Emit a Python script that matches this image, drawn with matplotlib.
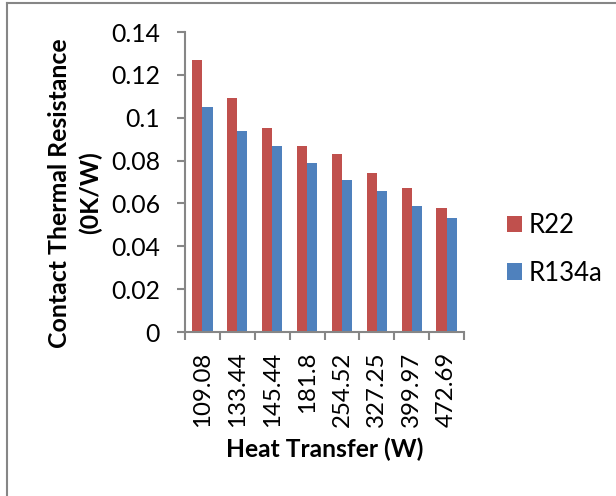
import matplotlib
matplotlib.use("Agg")
import matplotlib.pyplot as plt
import numpy as np
from matplotlib.lines import Line2D
from matplotlib.patches import Patch

categories = ["109.08", "133.44", "145.44", "181.8", "254.52", "327.25", "399.97", "472.69"]
r22 = [0.127, 0.109, 0.095, 0.087, 0.083, 0.074, 0.067, 0.058]
r134a = [0.105, 0.094, 0.087, 0.079, 0.071, 0.066, 0.059, 0.053]
yticks = [0, 0.02, 0.04, 0.06, 0.08, 0.1, 0.12, 0.14]
ytick_labels = ["0", "0.02", "0.04", "0.06", "0.08", "0.1", "0.12", "0.14"]

RED = "#C0504D"
BLUE = "#4F81BD"
GRAY = "#868686"
FONT = "Lato"

fig = plt.figure(figsize=(6.16, 4.96), dpi=100)
ax = fig.add_axes([185/616, (496-332)/496, 279/616, 300/496])

x = np.arange(len(categories))
w = 0.29
ax.bar(x - w/2, r22, width=w, color=RED, label="R22", linewidth=0)
ax.bar(x + w/2, r134a, width=w, color=BLUE, label="R134a", linewidth=0)

ax.set_xlim(-0.5, len(categories) - 0.5)
ax.set_ylim(0, 0.14)

for s in ["top", "right"]:
    ax.spines[s].set_visible(False)
for s in ["left", "bottom"]:
    ax.spines[s].set_color(GRAY)
    ax.spines[s].set_linewidth(1.5)

ax.set_yticks(yticks)
ax.set_yticklabels(ytick_labels, fontfamily=FONT, fontsize=17.8)
ax.tick_params(axis="y", direction="out", length=6, width=1.5, color=GRAY, pad=12)

ax.set_xticks(x)
ax.set_xticklabels(categories, rotation=90, fontfamily=FONT, fontsize=17.3)
ax.tick_params(axis="x", which="major", length=0, pad=14)
ax.set_xticks(np.arange(len(categories) + 1) - 0.5, minor=True)
ax.tick_params(axis="x", which="minor", direction="out", length=6, width=1.5, color=GRAY)

fig.text(325/616, (496-456.7)/496, "Heat Transfer (W)", ha="center", va="baseline",
         fontfamily=FONT, fontweight="bold", fontsize=17.7)
fig.text(66.7/616, (496-193)/496, "Contact Thermal Resistance", rotation=90,
         rotation_mode="anchor", ha="center", va="baseline",
         fontfamily=FONT, fontweight="bold", fontsize=17.9)
fig.text(98/616, (496-193)/496, "(0K/W)", rotation=90,
         rotation_mode="anchor", ha="center", va="baseline",
         fontfamily=FONT, fontweight="bold", fontsize=17.9)

handles = [Patch(facecolor=RED, edgecolor="none"), Patch(facecolor=BLUE, edgecolor="none")]
fig.legend(handles, ["R22", "R134a"], loc="center left",
           bbox_to_anchor=(506.7/616, (496-249.5)/496), frameon=False,
           prop={"family": FONT, "size": 18.5}, handlelength=0.607, handleheight=0.607,
           handletextpad=0.26, labelspacing=0.87, borderpad=0, borderaxespad=0)

fig.add_artist(Line2D([7/616, 7/616], [0, 1 - 2.5/496], transform=fig.transFigure,
                      color=GRAY, linewidth=1.5))
fig.add_artist(Line2D([7/616, 1], [1 - 2.5/496, 1 - 2.5/496], transform=fig.transFigure,
                      color=GRAY, linewidth=1.5))

fig.savefig("out.png", dpi=100)
